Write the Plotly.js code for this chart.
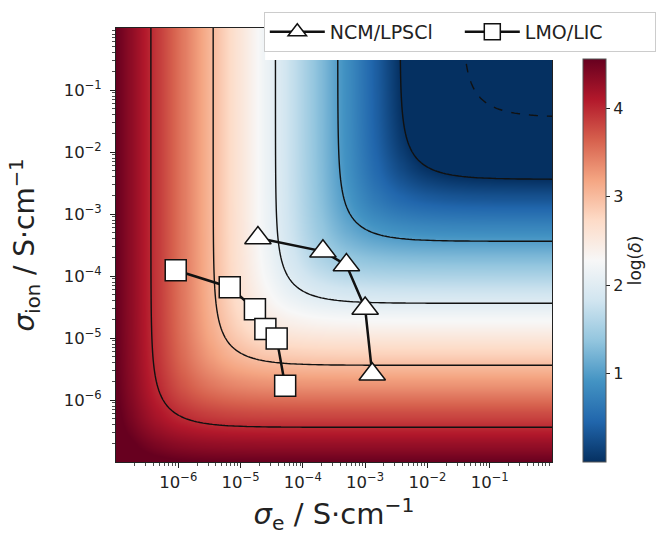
<!DOCTYPE html>
<html><head><meta charset="utf-8">
<script src="https://cdn.plot.ly/plotly-3.0.1.min.js"></script>
<style>html,body{margin:0;padding:0;background:#fff;}#chart{width:667px;height:535px;}</style>
</head><body><div id="chart"></div>
<script>
// ---- Scatter data (S/cm) ----
const seriesNames = ['NCM/LPSCl', 'LMO/LIC'];
const ncmSigmaE   = [1.9e-5, 2.1e-4, 5.0e-4, 1.0e-3, 1.3e-3];
const ncmSigmaIon = [4.1e-4, 2.5e-4, 1.5e-4, 3.0e-5, 2.6e-6];
const lmoSigmaE   = [9.1e-7, 6.7e-6, 1.7e-5, 2.5e-5, 3.8e-5, 5.2e-5];
const lmoSigmaIon = [1.24e-4, 6.6e-5, 2.9e-5, 1.4e-5, 9.8e-6, 1.7e-6];

// ---- Map: contours read one decade apart, symmetric in sigma_e / sigma_ion ----
// log(delta) = deltaOffset + log10(1/sigma_e + 1/sigma_ion)
const deltaOffset = -2.44;
const solidLevels = [0, 1, 2, 3, 4];
const dashedLevels = [-2, -1];
const colorRange = [0, 4.56];
const colorbarTicks = [1, 2, 3, 4];
const axisLogRange = [-7, 0];

// ---- Tick labels ----
const majorTickVals = [1e-6, 1e-5, 1e-4, 1e-3, 1e-2, 1e-1];
const majorTickText = ['10<sup>−6</sup>', '10<sup>−5</sup>', '10<sup>−4</sup>', '10<sup>−3</sup>', '10<sup>−2</sup>', '10<sup>−1</sup>'];

// matplotlib RdBu_r
const rdbuR = [
  [0.0, '#053061'], [0.1, '#2166ac'], [0.2, '#4393c3'], [0.3, '#92c5de'], [0.4, '#d1e5f0'],
  [0.5, '#f7f7f7'], [0.6, '#fddbc7'], [0.7, '#f4a582'], [0.8, '#d6604d'], [0.9, '#b2182b'], [1.0, '#67001f']
];

// sampling grid of the map (log-spaced)
const grid = [];
for (let e = axisLogRange[0]; e <= axisLogRange[1] + 1e-9; e += 0.05) grid.push(Math.pow(10, e));
const zMap = grid.map(si => grid.map(se => deltaOffset + Math.log10(1 / se + 1 / si)));

const minorVals = [];
for (let n = axisLogRange[0]; n < axisLogRange[1]; n++) for (let k = 2; k <= 9; k++) minorVals.push(k * Math.pow(10, n));

const FONT = 'DejaVu Sans, Arial, sans-serif';
const INK = '#222222';

const traces = [
  {
    type: 'heatmap', x: grid, y: grid, z: zMap, zmin: colorRange[0], zmax: colorRange[1],
    zsmooth: 'best', colorscale: rdbuR, hoverinfo: 'skip', showlegend: false,
    colorbar: {
      x: 1.071, xanchor: 'left', xpad: 0, y: 0, yanchor: 'bottom', ypad: 0,
      len: 0.929, lenmode: 'fraction', thickness: 23, thicknessmode: 'pixels',
      outlinewidth: 1, outlinecolor: '#555',
      tickmode: 'array', tickvals: colorbarTicks, ticks: 'outside', ticklen: 4, tickcolor: INK,
      tickfont: {family: FONT, size: 16, color: INK},
      title: {text: 'log(<i>δ</i>)', side: 'right', font: {family: FONT, size: 17, color: INK}}
    }
  },
  {
    type: 'contour', x: grid, y: grid, z: zMap, showscale: false, showlegend: false, hoverinfo: 'skip',
    contours: {start: solidLevels[0], end: solidLevels[solidLevels.length - 1], size: 1, coloring: 'none'},
    line: {color: '#111', width: 1.4, smoothing: 0}
  },
  {
    type: 'contour', x: grid, y: grid, z: zMap, showscale: false, showlegend: false, hoverinfo: 'skip',
    contours: {start: dashedLevels[0], end: dashedLevels[dashedLevels.length - 1], size: 1, coloring: 'none'},
    line: {color: '#111', width: 1.4, dash: 'dash', smoothing: 0}
  },
  {
    type: 'scatter', mode: 'lines+markers', name: seriesNames[0], x: ncmSigmaE, y: ncmSigmaIon,
    line: {color: '#111', width: 2.5},
    marker: {symbol: 'triangle-up', size: 23, color: 'white', line: {color: '#111', width: 1.5}}
  },
  {
    type: 'scatter', mode: 'lines+markers', name: seriesNames[1], x: lmoSigmaE, y: lmoSigmaIon,
    line: {color: '#111', width: 2.5},
    marker: {symbol: 'square', size: 21, color: 'white', line: {color: '#111', width: 1.5}}
  }
];

const axisCommon = {
  type: 'log', range: axisLogRange, tickmode: 'array', tickvals: majorTickVals, ticktext: majorTickText,
  ticks: 'outside', ticklen: 5, tickwidth: 1, tickcolor: INK,
  minor: {tickmode: 'array', tickvals: minorVals, ticks: 'outside', ticklen: 3, tickwidth: 0.8, tickcolor: INK, showgrid: false},
  showgrid: false, zeroline: false, showline: true, mirror: true, linecolor: INK, linewidth: 1,
  tickfont: {family: FONT, size: 16.5, color: INK}, automargin: false
};

const layout = {
  width: 667, height: 535,
  margin: {l: 116, r: 115, t: 28, b: 73, pad: 0, autoexpand: false},
  paper_bgcolor: 'white', plot_bgcolor: 'white',
  font: {family: FONT, color: INK},
  xaxis: Object.assign({}, axisCommon, {
    title: {text: '<i>σ</i><sub>e</sub> / S·cm<sup>−1</sup>', font: {family: FONT, size: 29, color: INK}, standoff: 16}
  }),
  yaxis: Object.assign({}, axisCommon, {
    ticklabelstandoff: 5,
    title: {text: '<i>σ</i><sub>ion</sub> / S·cm<sup>−1</sup>', font: {family: FONT, size: 28, color: INK}, standoff: 20}
  }),
  showlegend: true,
  legend: {
    orientation: 'h', x: 0.339, xanchor: 'left', y: 1.037, yanchor: 'top',
    bgcolor: 'white', bordercolor: '#cccccc', borderwidth: 1,
    font: {family: FONT, size: 19, color: INK}, itemsizing: 'trace', itemwidth: 55,
    entrywidth: 125, entrywidthmode: 'pixels'
  },
  shapes: [{
    type: 'rect', xref: 'paper', yref: 'paper', x0: 0.342, x1: 1.2, y0: 0.926, y1: 1.1,
    fillcolor: 'white', line: {width: 0}, layer: 'above'
  }]
};

Plotly.newPlot('chart', traces, layout, {displayModeBar: false, staticPlot: true});
</script>
</body></html>
